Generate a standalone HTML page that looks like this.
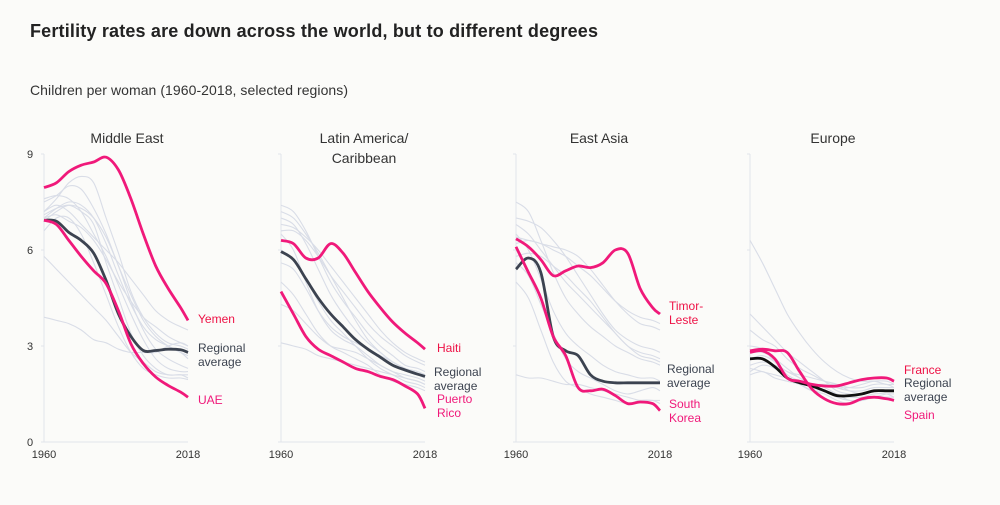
<!DOCTYPE html>
<html><head><meta charset="utf-8"><style>
body{margin:0;background:#fbfbf9;font-family:"Liberation Sans",sans-serif}
svg{display:block}
</style></head><body>
<svg id="chart" width="1000" height="505">
<rect width="1000" height="505" fill="#fbfbf9"/>
<text x="30" y="37" font-size="18" font-weight="bold" fill="#222" textLength="568">Fertility rates are down across the world, but to different degrees</text>
<text x="30" y="95" font-size="14" fill="#333" textLength="318">Children per woman (1960-2018, selected regions)</text>
</svg>
<script>
const years=[1960,1965,1970,1975,1980,1985,1990,1995,2000,2005,2010,2015,2018];
const yTicks=[0,3,6,9];
const panelNames=["Middle East","Latin America/|Caribbean","East Asia","Europe"];
const panelLeft=[44,281,516,750];
const meYemen=[7.95,8.1,8.45,8.65,8.75,8.9,8.5,7.6,6.5,5.5,4.8,4.2,3.8];
const meAvg=[6.93,6.9,6.55,6.3,5.9,5.05,4.0,3.3,2.86,2.86,2.9,2.88,2.8];
const meUAE=[6.93,6.8,6.3,5.8,5.35,4.95,4.1,3.07,2.45,2.03,1.77,1.56,1.4];
const laHaiti=[6.3,6.2,5.75,5.75,6.2,5.9,5.3,4.7,4.2,3.75,3.4,3.1,2.9];
const laAvg=[5.95,5.7,5.1,4.5,4.0,3.6,3.2,2.9,2.65,2.4,2.25,2.12,2.05];
const laPR=[4.7,4.0,3.3,2.9,2.7,2.5,2.3,2.2,2.05,1.95,1.75,1.5,1.05];
const eaTimor=[6.35,6.1,5.7,5.2,5.35,5.5,5.45,5.6,6.0,5.9,4.8,4.2,4.0];
const eaAvg=[5.4,5.75,5.3,3.3,2.85,2.7,2.1,1.9,1.85,1.85,1.85,1.85,1.85];
const eaKorea=[6.1,5.3,4.5,3.3,2.7,1.7,1.6,1.65,1.45,1.2,1.25,1.2,0.98];
const euFrance=[2.8,2.85,2.6,2.0,1.9,1.8,1.75,1.75,1.85,1.95,2.0,2.0,1.9];
const euAvg=[2.6,2.6,2.35,2.0,1.85,1.75,1.6,1.45,1.45,1.5,1.6,1.6,1.6];
const euSpain=[2.85,2.9,2.85,2.8,2.2,1.65,1.35,1.2,1.2,1.35,1.4,1.35,1.3];
const meGray=[[7.0,7.3,7.5,7.4,7.0,6.2,5.2,4.3,3.6,3.2,3.0,2.8,2.7],[7.5,7.7,8.0,7.9,7.3,6.5,5.5,4.6,3.8,3.3,3.0,2.8,2.6],[7.2,7.6,8.1,8.3,8.1,7.0,5.9,4.7,3.9,3.4,3.1,3.0,2.9],[7.1,7.3,7.4,7.2,6.8,5.6,4.5,3.4,2.7,2.3,2.1,2.1,2.0],[6.6,7.0,7.0,6.5,5.6,4.6,3.6,2.8,2.3,2.1,2.0,2.0,1.95],[5.8,5.4,5.0,4.6,4.2,3.8,3.3,2.8,2.5,2.2,2.1,2.1,2.1],[3.9,3.8,3.7,3.5,3.2,3.1,2.9,2.8,2.8,2.8,3.0,3.1,3.0],[7.0,7.1,6.9,6.7,6.3,5.7,5.0,4.4,3.9,3.6,3.3,3.1,3.0],[7.6,7.7,7.6,7.2,6.5,5.8,4.9,4.0,3.2,2.6,2.3,2.2,2.2],[6.9,7.2,7.4,7.3,7.0,6.4,5.5,4.4,3.5,2.9,2.6,2.4,2.3],[7.2,7.4,7.2,6.8,6.4,6.0,5.6,5.1,4.6,4.1,3.8,3.6,3.5]];
const laGray=[[7.4,7.2,6.6,5.8,5.0,4.4,3.9,3.4,3.0,2.7,2.4,2.3,2.2],[7.0,6.8,6.2,5.4,4.6,4.0,3.5,3.1,2.8,2.5,2.3,2.2,2.1],[6.8,6.7,6.4,6.0,5.5,5.0,4.5,4.0,3.5,3.1,2.8,2.6,2.5],[6.5,6.0,5.0,4.1,3.5,3.2,3.0,2.7,2.4,2.2,2.0,1.9,1.8],[6.0,5.7,5.1,4.4,3.8,3.4,3.0,2.6,2.3,2.1,1.9,1.8,1.7],[7.2,7.0,6.5,5.9,5.2,4.5,3.8,3.2,2.8,2.5,2.3,2.1,2.0],[5.0,4.6,4.0,3.4,3.0,2.8,2.6,2.4,2.1,1.9,1.8,1.7,1.6],[4.3,4.1,3.7,3.3,3.0,2.9,2.8,2.6,2.4,2.2,2.1,2.0,1.9],[6.6,6.6,6.3,5.8,5.2,4.7,4.2,3.7,3.3,3.0,2.7,2.5,2.4],[3.1,3.0,2.9,2.7,2.6,2.5,2.4,2.3,2.2,2.1,2.0,1.9,1.8],[5.6,5.4,4.8,4.1,3.6,3.3,3.1,2.9,2.7,2.5,2.3,2.2,2.1]];
const eaGray=[[7.5,7.2,6.3,5.3,4.5,4.0,3.6,3.3,3.0,2.8,2.6,2.5,2.4],[6.8,6.5,6.0,5.5,5.0,4.6,4.2,3.8,3.4,3.0,2.8,2.7,2.6],[6.2,6.3,6.2,6.1,6.0,5.8,5.4,4.9,4.4,4.0,3.7,3.6,3.5],[5.6,5.2,4.3,3.4,2.6,2.2,2.0,1.8,1.6,1.5,1.6,1.7,1.6],[6.5,6.0,5.1,4.1,3.4,3.0,2.7,2.4,2.2,2.1,2.0,2.0,1.9],[5.0,4.5,3.5,2.5,1.9,1.7,1.5,1.4,1.3,1.2,1.3,1.3,1.2],[7.0,6.9,6.7,6.3,5.8,5.2,4.6,4.0,3.5,3.2,3.0,2.9,2.8],[5.8,5.9,5.8,5.5,5.2,4.8,4.4,3.9,3.4,3.0,2.7,2.6,2.5],[2.1,2.0,2.0,1.9,1.8,1.8,1.7,1.6,1.5,1.4,1.3,1.3,1.3],[6.4,6.3,6.2,6.0,5.8,5.5,5.2,4.8,4.4,4.1,3.9,3.8,3.7]];
const euGray=[[6.3,5.6,4.8,4.0,3.4,2.9,2.5,2.2,2.0,1.9,1.9,1.8,1.8],[4.0,3.6,3.2,2.8,2.5,2.2,1.9,1.6,1.5,1.5,1.6,1.6,1.6],[3.5,3.2,3.0,2.6,2.3,2.1,1.9,1.7,1.6,1.6,1.7,1.7,1.7],[2.8,2.8,2.6,2.3,2.0,1.8,1.7,1.5,1.3,1.3,1.4,1.5,1.5],[2.4,2.5,2.4,2.2,2.0,1.8,1.8,1.8,1.7,1.7,1.8,1.8,1.7],[2.2,2.4,2.3,2.0,1.8,1.6,1.6,1.5,1.4,1.4,1.5,1.5,1.4],[3.0,2.9,2.5,2.2,2.1,2.0,1.9,1.8,1.6,1.5,1.6,1.6,1.6],[2.6,2.7,2.5,2.1,1.9,1.7,1.6,1.4,1.3,1.3,1.4,1.4,1.3],[2.3,2.2,2.1,2.0,1.9,1.8,1.8,1.7,1.7,1.8,1.9,1.9,1.8],[2.1,2.2,2.0,1.9,1.8,1.6,1.5,1.3,1.2,1.3,1.4,1.4,1.4]];

const PINK="#f0197a",RED="#ee1246",AVG="#3c4350",GRAY="#d9dde7";
const svg=document.getElementById('chart');
const NS="http://www.w3.org/2000/svg";
const W=144;
function yScale(v){return 442-32*v;}
function xScale(i,yr){return panelLeft[i]+(yr-1960)/58*W;}
function mk(tag,attrs){const e=document.createElementNS(NS,tag);for(const k in attrs)e.setAttribute(k,attrs[k]);svg.appendChild(e);return e;}
function pathD(i,vals){
  const p=vals.map((v,j)=>[xScale(i,years[j]),yScale(v)]);
  let d="M"+p[0][0].toFixed(1)+","+p[0][1].toFixed(1);
  for(let j=0;j<p.length-1;j++){
    const p0=p[j-1]||p[j],p1=p[j],p2=p[j+1],p3=p[j+2]||p2;
    const c1=[p1[0]+(p2[0]-p0[0])/6,p1[1]+(p2[1]-p0[1])/6];
    const c2=[p2[0]-(p3[0]-p1[0])/6,p2[1]-(p3[1]-p1[1])/6];
    d+=`C${c1[0].toFixed(1)},${c1[1].toFixed(1)} ${c2[0].toFixed(1)},${c2[1].toFixed(1)} ${p2[0].toFixed(1)},${p2[1].toFixed(1)}`;
  }
  return d;
}
function txt(x,y,s,attrs){const t=mk('text',Object.assign({x:x,y:y,'font-size':12},attrs));t.textContent=s;return t;}

const grays=[meGray,laGray,eaGray,euGray];
const highlights=[
 [[meAvg,AVG,"regional-average-line"],[meYemen,PINK,"yemen-line"],[meUAE,PINK,"uae-line"]],
 [[laAvg,AVG,"regional-average-line"],[laHaiti,PINK,"haiti-line"],[laPR,PINK,"puerto-rico-line"]],
 [[eaAvg,AVG,"regional-average-line"],[eaTimor,PINK,"timor-leste-line"],[eaKorea,PINK,"south-korea-line"]],
 [[euAvg,"#111","regional-average-line"],[euFrance,PINK,"france-line"],[euSpain,PINK,"spain-line"]]
];
const labels=[
 [[198,323,"Yemen",RED],[198,352,"Regional",AVG],[198,366,"average",AVG],[198,404,"UAE",PINK]],
 [[437,352,"Haiti",RED],[434,376,"Regional",AVG],[434,390,"average",AVG],[437,403,"Puerto",PINK],[437,417,"Rico",PINK]],
 [[669,310,"Timor-",RED],[669,324,"Leste",RED],[667,373,"Regional",AVG],[667,387,"average",AVG],[669,408,"South",PINK],[669,422,"Korea",PINK]],
 [[904,374,"France",RED],[904,387,"Regional",AVG],[904,401,"average",AVG],[904,419,"Spain",PINK]]
];
for(let i=0;i<4;i++){
  const cx=panelLeft[i]+W/2+11;
  const parts=panelNames[i].split("|");
  parts.forEach((s,k)=>{const t=txt(cx,143+k*20,s,{'font-size':14,'text-anchor':'middle',fill:'#333'});
    });
  const ax=mk('line',{x1:panelLeft[i],x2:panelLeft[i],y1:yScale(9),y2:yScale(0),stroke:'#e2e4ea','stroke-width':1});
  
  const bx=mk('line',{x1:panelLeft[i],x2:panelLeft[i]+W,y1:yScale(0),y2:yScale(0),stroke:'#e2e4ea','stroke-width':1});
  
  yTicks.forEach(v=>{const tk=mk('line',{x1:panelLeft[i]-3,x2:panelLeft[i],y1:yScale(v),y2:yScale(v),stroke:'#e2e4ea'});
    
    if(i==0){const t=txt(30,yScale(v)+4,String(v),{'font-size':11,'text-anchor':'middle',fill:'#333'});
      }});
  [[1960,'x-tick-1960'],[2018,'x-tick-2018']].forEach(([yr,n])=>{const t=txt(xScale(i,yr),458,String(yr),{'font-size':11,'text-anchor':'middle',fill:'#333'});
    });
  grays[i].forEach(g=>{const p=mk('path',{d:pathD(i,g),fill:'none',stroke:GRAY,'stroke-width':1.1});
    });
  highlights[i].forEach(([vals,col,n])=>{const p=mk('path',{d:pathD(i,vals),fill:'none',stroke:col,'stroke-width':2.8,'stroke-linejoin':'round'});
    });
  labels[i].forEach(([x,y,s,c])=>{const t=txt(x,y,s,{fill:c});
    });
}
</script>
</body></html>
